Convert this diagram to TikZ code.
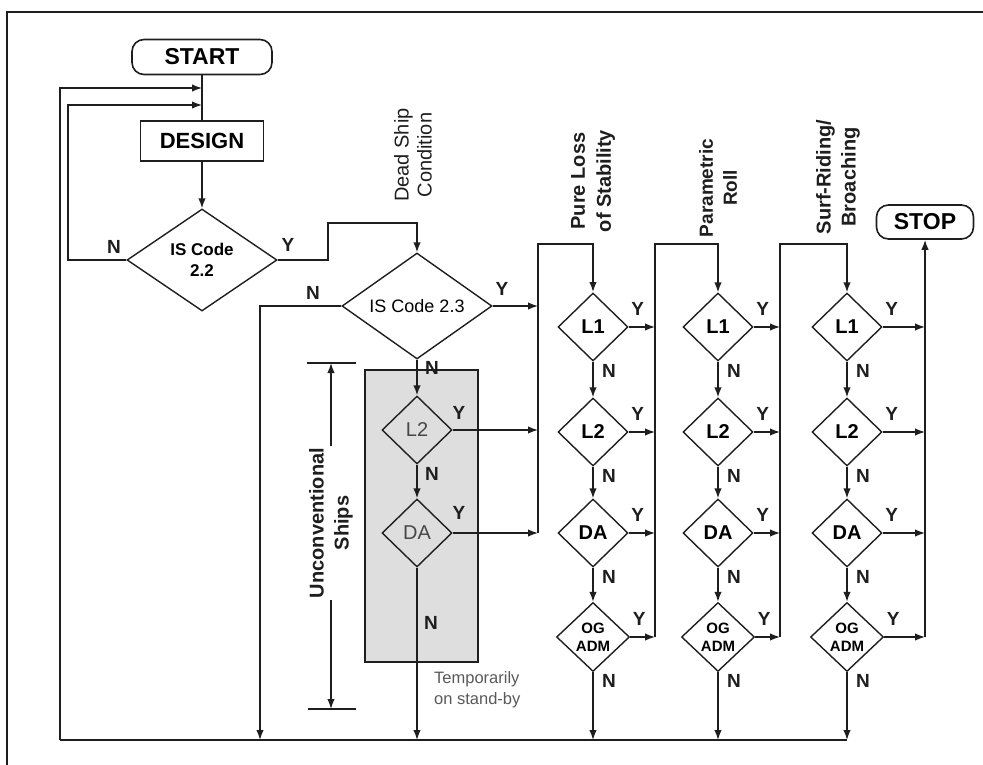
\documentclass[tikz,border=0pt]{standalone}
\usepackage{fontspec}
\setmainfont{Liberation Sans}
\setsansfont{Liberation Sans}
\usetikzlibrary{shapes.geometric,arrows.meta}
\newcommand{\myfs}[2]{\fontsize{#1}{#2}\selectfont}
\definecolor{boxgray}{RGB}{222,222,222}
\definecolor{ink}{RGB}{30,30,30}
\begin{document}
\begin{tikzpicture}[x=1pt,y=-1pt,
  conn/.style={line width=1.5pt, draw=ink},
  arr/.style={conn,-{Latex[length=10pt,width=7.5pt]}},
  term/.style={draw=ink, line width=1.6pt, rounded corners=12pt, inner sep=0, font=\bfseries\myfs{23}{26}},
  dbox/.style={draw=ink, line width=1.6pt, inner sep=0, font=\bfseries\myfs{22}{25}},
  dia/.style={draw=ink, line width=1.4pt, diamond, aspect=1, inner sep=0, minimum width=70pt, minimum height=68pt, font=\bfseries\myfs{20}{22}},
  gdia/.style={dia, font=\myfs{20}{22}, text=black!72},
  ogdia/.style={dia, minimum width=73pt, minimum height=69pt, font=\bfseries\myfs{15}{18}, align=center},
  yn/.style={font=\bfseries\myfs{19}{20}, inner sep=0, text=ink},
  rot/.style={rotate=90, align=center, inner sep=0, text=ink},
]
\useasboundingbox (0,0) rectangle (983,765);
% frame
\draw[line width=1.5pt, draw=ink] (7,765) -- (7,12) -- (983,12);

% coordinates
\coordinate (j88) at (202,88);
\coordinate (j105) at (202,105);
\coordinate (ol) at (60,88);
\coordinate (lp) at (68,105);
\coordinate (bl0) at (60,740);
\coordinate (bl1) at (847,740);
\coordinate (y22) at (328,223);
\coordinate (b260) at (260,740);
\coordinate (k0-top) at (538,244);
\coordinate (k0-bot) at (538,533);
\coordinate (dimt) at (331,363);
\coordinate (dimb) at (331,709);

% left part
\node[term, minimum width=140pt, minimum height=35pt] (start) at (202,57) {START};
\node[dbox, minimum width=123pt, minimum height=40pt] (design) at (202,141) {DESIGN};
\node[dia, minimum width=150pt, minimum height=102pt, aspect=1.47, font=\bfseries\myfs{17}{21}, align=center] (d22) at (202,260) {IS Code\\2.2};
\node[dia, minimum width=150pt, minimum height=106pt, aspect=1.42, font=\myfs{18}{20}] (d23) at (417,306) {IS Code 2.3};

\draw[conn] (start) -- (design);
\draw[arr] (design) -- (d22);
\draw[arr] (bl0) -- (ol) -- (j88);
\draw[arr] (d22.west) -| (lp) -- (j105);
\draw[arr] (d22.east) -| (y22) -| (d23.north);
\draw[arr] (d23.west) -| (b260);
\draw[arr] (d23.east) -- (d23.east -| k0-top);
\draw[conn] (bl0) -- (bl1);

\node[yn] (n22) at (114,247) {N};
\node[yn] (y22l) at (288,245) {Y};
\node[yn] (n23) at (313,293) {N};
\node[yn] (y23) at (502,289) {Y};

% unconventional ships
\draw[conn, {Latex[length=10pt,width=7.5pt]}-{Latex[length=10pt,width=7.5pt]}] (dimt) -- (dimb);
\draw[conn] (307,363) -- (356,363);
\draw[conn] (308,709) -- (356,709);
\node[rot, fill=white, inner sep=1.5pt, font=\bfseries\myfs{20}{25}] (uncon) at (331,523) {Unconventional\\Ships};

% gray box
\node[draw=ink, line width=2.6pt, fill=boxgray, minimum width=113pt, minimum height=292pt, inner sep=0] (gbox) at (421.5,516) {};
\node[gdia] (g2) at (417,430) {L2};
\node[gdia] (gda) at (417,533) {DA};
\draw[arr] (d23.south) -- (g2.north);
\draw[arr] (g2) -- (gda);
\draw[arr] (gda) -- (gda.south |- bl0);
\draw[arr] (g2.east) -- (g2.east -| k0-top);
\draw[arr] (gda.east) -- (k0-bot);
\draw[arr] (k0-bot) -- (k0-top) -| (593,292);
\node[yn] (n23b) at (432,368) {N};
\node[yn] (gy2) at (459,413) {Y};
\node[yn] (gn2) at (432,474) {N};
\node[yn] (gyda) at (459,513) {Y};
\node[yn] (gnda) at (431,623) {N};
\node[anchor=west, align=left, font=\myfs{16.5}{21}, text=black!65, inner sep=0] (temp) at (434,690) {Temporarily\\on stand-by};

% columns
\foreach \i/\cx/\nx in {1/593/655, 2/718/780, 3/847/925}{
  \coordinate (k\i-top) at (\nx,244);
  \coordinate (k\i-bot) at (\nx,637);
  \node[dia] (c\i-a) at (\cx,327) {L1};
  \node[dia] (c\i-b) at (\cx,432) {L2};
  \node[dia] (c\i-c) at (\cx,533) {DA};
  \node[ogdia] (c\i-d) at (\cx,637) {OG\\ADM};
  \draw[arr] (c\i-a) -- (c\i-b);
  \draw[arr] (c\i-b) -- (c\i-c);
  \draw[arr] (c\i-c) -- (c\i-d);
  \draw[arr] (c\i-d) -- (c\i-d.south |- bl0);
  \foreach \r in {a,b,c,d}{
    \draw[arr] (c\i-\r.east) -- (c\i-\r.east -| k\i-top);
    \node[yn] (y\i\r) at ([xshift=9pt,yshift=18pt]c\i-\r.east) {Y};
    \node[yn] (n\i\r) at ([xshift=16pt,yshift=-9pt]c\i-\r.south) {N};
  }
}
\node[term, minimum width=97pt, minimum height=34pt] (stop) at (925,222) {STOP};
\draw[arr] (k1-bot) -- (k1-top) -| (c2-a.north);
\draw[arr] (k2-bot) -- (k2-top) -| (c3-a.north);
\draw[arr] (k3-bot) -- (stop.south);

% column titles
\node[rot, font=\myfs{20}{23}] (dsc) at (413,155) {Dead Ship\\Condition};
\node[rot, font=\bfseries\myfs{20}{26}] (pls) at (593,181) {Pure Loss\\of Stability};
\node[rot, font=\bfseries\myfs{19}{24}] (pr) at (718,188) {Parametric\\Roll};
\node[rot, font=\bfseries\myfs{20}{25}] (srb) at (838,177) {Surf-Riding/\\Broaching};
\end{tikzpicture}
\end{document}
